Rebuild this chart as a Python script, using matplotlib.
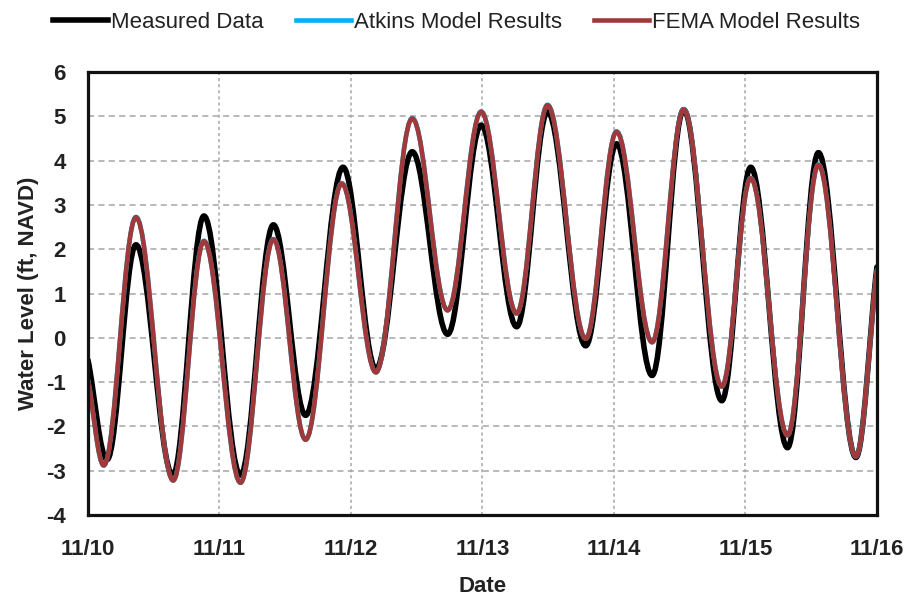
import matplotlib
matplotlib.use('Agg')
import matplotlib.pyplot as plt
from matplotlib.path import Path
from matplotlib.patches import PathPatch
from matplotlib.lines import Line2D

# days after 11/10 00:00 (high / low water turning points)
measured_t = [0.00, 0.145, 0.365, 0.645, 0.882, 1.16, 1.41, 1.655, 1.94, 2.19, 2.466, 2.735,
              2.99, 3.26, 3.495, 3.785, 4.02, 4.29, 4.53, 4.82, 5.04, 5.32, 5.555, 5.84, 6.00]
measured_level = [-0.5, -2.75, 2.1, -3.1, 2.75, -3.1, 2.55, -1.75, 3.85, -0.7, 4.2, 0.08,
                  4.8, 0.25, 5.1, -0.18, 4.38, -0.85, 5.15, -1.42, 3.85, -2.48, 4.18, -2.7, 1.6]

fema_t = [0.00, 0.12, 0.365, 0.648, 0.882, 1.16, 1.41, 1.655, 1.93, 2.19, 2.466, 2.735,
          2.99, 3.26, 3.495, 3.785, 4.02, 4.29, 4.53, 4.82, 5.04, 5.32, 5.555, 5.84, 6.00]
fema_level = [-0.95, -2.88, 2.72, -3.22, 2.18, -3.27, 2.22, -2.3, 3.48, -0.78, 4.95, 0.62,
              5.1, 0.55, 5.25, -0.02, 4.65, -0.1, 5.15, -1.1, 3.6, -2.2, 3.9, -2.68, 1.53]

# Atkins run sits right under the FEMA run on the chart
atkins_t = list(fema_t)
atkins_level = [-0.95, -2.88, 2.73, -3.22, 2.19, -3.27, 2.23, -2.3, 3.49, -0.78, 4.96, 0.62,
                5.11, 0.55, 5.26, -0.02, 4.66, -0.1, 5.16, -1.1, 3.61, -2.2, 3.91, -2.68, 1.53]

day_ticks = [0, 1, 2, 3, 4, 5, 6]
day_labels = ['11/10', '11/11', '11/12', '11/13', '11/14', '11/15', '11/16']
level_ticks = [-4, -3, -2, -1, 0, 1, 2, 3, 4, 5, 6]
series_names = ['Measured Data', 'Atkins Model Results', 'FEMA Model Results']

plt.rcParams['font.family'] = ['Liberation Sans', 'DejaVu Sans']
plt.rcParams['axes.unicode_minus'] = False


def tide_path(t, v):
    # smooth tide curve: cubic segments with flat tangents at the turning points
    k = 0.3642
    verts = [(t[0], v[0])]
    codes = [Path.MOVETO]
    n = len(t)
    for i in range(n - 1):
        t0, v0, t1, v1 = t[i], v[i], t[i + 1], v[i + 1]
        dt = t1 - t0
        if i == 0:
            c1 = (t0 + dt / 3, v0 + (v1 - v0) / 3 * 0.9)
        else:
            c1 = (t0 + k * dt, v0)
        if i == n - 2:
            c2 = (t1 - dt / 3, v1 - (v1 - v0) / 3 * 0.9)
        else:
            c2 = (t1 - k * dt, v1)
        verts += [c1, c2, (t1, v1)]
        codes += [Path.CURVE4] * 3
    return Path(verts, codes)


fig = plt.figure(figsize=(9.05, 5.99), dpi=100)
ax = fig.add_axes([0.0972, 0.1402, 0.8718, 0.7396])

ax.add_patch(PathPatch(tide_path(measured_t, measured_level), fill=False,
                       edgecolor='black', lw=4.0, capstyle='round', joinstyle='round'))
ax.add_patch(PathPatch(tide_path(atkins_t, atkins_level), fill=False,
                       edgecolor='#00B0F0', lw=3.3, capstyle='round', joinstyle='round'))
ax.add_patch(PathPatch(tide_path(fema_t, fema_level), fill=False,
                       edgecolor='#A0393A', lw=3.3, capstyle='round', joinstyle='round'))

ax.set_xlim(0, 6)
ax.set_ylim(-4, 6)
ax.set_xticks(day_ticks)
ax.set_xticklabels(day_labels)
ax.set_yticks(level_ticks)
ax.tick_params(axis='both', length=0, labelsize=16)
ax.tick_params(axis='y', pad=16)
ax.tick_params(axis='x', pad=17)
for lab in ax.get_xticklabels() + ax.get_yticklabels():
    lab.set_fontweight('bold')
    lab.set_color('#222222')

ax.yaxis.grid(True, color='#A6A6A6', lw=1.1, linestyle=(0, (4, 2.8)))
ax.xaxis.grid(True, color='#A6A6A6', lw=1.1, linestyle=(0, (2, 2)))
ax.set_axisbelow(True)
for s in ax.spines.values():
    s.set_linewidth(2.3)
    s.set_color('#111111')

ax.set_xlabel('Date', fontsize=16, fontweight='bold', labelpad=12, color='#222222')
ax.set_ylabel('Water Level (ft, NAVD)', fontsize=16, fontweight='bold', labelpad=5,
              color='#222222')

handles = [Line2D([], [], color='black', lw=4.0),
           Line2D([], [], color='#00B0F0', lw=3.3),
           Line2D([], [], color='#A0393A', lw=3.3)]
leg = fig.legend(handles, series_names,
                 loc='center', bbox_to_anchor=(0.5044, 0.963), ncol=3, frameon=False,
                 fontsize=16, handlelength=2.48, handletextpad=0.14, columnspacing=1.45)
for txt in leg.get_texts():
    txt.set_color('#222222')

fig.savefig('out.png', dpi=100)
